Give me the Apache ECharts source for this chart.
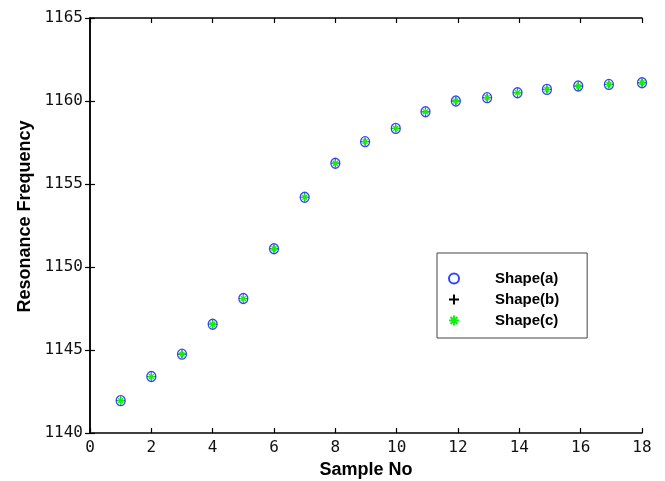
<!DOCTYPE html>
<html>
<head>
<meta charset="utf-8">
<script src="https://cdn.jsdelivr.net/npm/echarts@6/dist/echarts.min.js"></script>
<style>
html,body{margin:0;padding:0;background:#fff;}
#chart{width:665px;height:481px;}
</style>
</head>
<body>
<div id="chart"></div>
<script>
// Sample numbers
var sampleNo = [1, 2, 3, 4, 5, 6, 7, 8, 8.97, 9.97, 10.94, 11.93, 12.95, 13.94, 14.9, 15.92, 16.92, 18];
// Resonance frequency values for each shape
var shapeA = [1141.95, 1143.4, 1144.75, 1146.55, 1148.1, 1151.1, 1154.2, 1156.25, 1157.55, 1158.35, 1159.35, 1160.0, 1160.2, 1160.5, 1160.7, 1160.9, 1161.0, 1161.1];
var shapeB = [1141.95, 1143.4, 1144.75, 1146.55, 1148.1, 1151.1, 1154.2, 1156.25, 1157.55, 1158.35, 1159.35, 1160.0, 1160.2, 1160.5, 1160.7, 1160.9, 1161.0, 1161.1];
var shapeC = [1141.95, 1143.4, 1144.75, 1146.55, 1148.1, 1151.1, 1154.2, 1156.25, 1157.55, 1158.35, 1159.35, 1160.0, 1160.2, 1160.5, 1160.7, 1160.9, 1161.0, 1161.1];
var seriesNames = ['Shape(a)', 'Shape(b)', 'Shape(c)'];
var xTitle = 'Sample No';
var yTitle = 'Resonance Frequency';

function pairs(xs, ys) {
  return xs.map(function (x, i) { return [x, ys[i]]; });
}

var chart = echarts.init(document.getElementById('chart'), null, {renderer: 'canvas'});

var axisLine = {show: true, lineStyle: {color: '#000', width: 1.5}};
var axisTick = {show: true, inside: true, length: 5, lineStyle: {color: '#000', width: 1.2}};
var tickFont = {fontFamily: 'DejaVu Sans Mono', fontSize: 16, color: '#111'};
function plain(v) { return String(v); }

var plusPath = 'path://M0,-1L0,1M-1,0L1,0';
var starPath = 'path://M0,-1L0,1M-1,0L1,0M-0.7,-0.7L0.7,0.7M-0.7,0.7L0.7,-0.7';

var option = {
  backgroundColor: '#fff',
  animation: false,
  grid: {left: 90, top: 18, right: 23, bottom: 48, containLabel: false, outerBoundsMode: 'none'},
  xAxis: [
    {
      type: 'value', min: 0, max: 18, interval: 2, position: 'bottom',
      name: xTitle, nameLocation: 'middle', nameGap: 27,
      nameTextStyle: {fontFamily: 'Liberation Sans', fontWeight: 'bold', fontSize: 18, color: '#000'},
      axisLine: axisLine, axisTick: axisTick,
      axisLabel: Object.assign({margin: 7, formatter: plain}, tickFont),
      splitLine: {show: false}
    },
    {
      type: 'value', min: 0, max: 18, interval: 2, position: 'top',
      axisLine: axisLine, axisTick: axisTick,
      axisLabel: {show: false}, splitLine: {show: false}
    }
  ],
  yAxis: [
    {
      type: 'value', min: 1140, max: 1165, interval: 5, position: 'left',
      name: yTitle, nameLocation: 'middle', nameGap: 53,
      nameTextStyle: {fontFamily: 'Liberation Sans', fontWeight: 'bold', fontSize: 18, color: '#000', padding: [0, 0, 0, 18]},
      axisLine: axisLine, axisTick: axisTick,
      axisLabel: Object.assign({margin: 7, formatter: plain}, tickFont),
      splitLine: {show: false}
    },
    {
      type: 'value', min: 1140, max: 1165, interval: 5, position: 'right',
      axisLine: axisLine, axisTick: axisTick,
      axisLabel: {show: false}, splitLine: {show: false}
    }
  ],
  legend: {
    orient: 'vertical',
    left: 437, top: 253,
    padding: [17, 28, 9, 11],
    itemGap: 4,
    itemWidth: 10, itemHeight: 10,
    backgroundColor: '#fff',
    borderColor: '#444', borderWidth: 1,
    textStyle: {fontFamily: 'Liberation Sans', fontWeight: 'bold', fontSize: 15, color: '#000', lineHeight: 17, padding: [0, 0, 0, 31]},
    data: seriesNames
  },
  series: [
    {
      name: seriesNames[0], type: 'scatter', data: pairs(sampleNo, shapeA),
      symbol: 'circle', symbolSize: [9, 10], z: 2,
      itemStyle: {color: '#fff', borderColor: '#3344ff', borderWidth: 1.3, opacity: 1}
    },
    {
      name: seriesNames[1], type: 'scatter', data: pairs(sampleNo, shapeB),
      symbol: plusPath, symbolSize: 8, z: 3,
      itemStyle: {color: 'rgba(0,0,0,0)', borderColor: '#000', borderWidth: 1, opacity: 1}
    },
    {
      name: seriesNames[2], type: 'scatter', data: pairs(sampleNo, shapeC),
      symbol: starPath, symbolSize: 7, z: 4,
      itemStyle: {color: 'rgba(0,0,0,0)', borderColor: '#11ee11', borderWidth: 1.3, opacity: 1}
    }
  ]
};
chart.setOption(option);
</script>
</body>
</html>
